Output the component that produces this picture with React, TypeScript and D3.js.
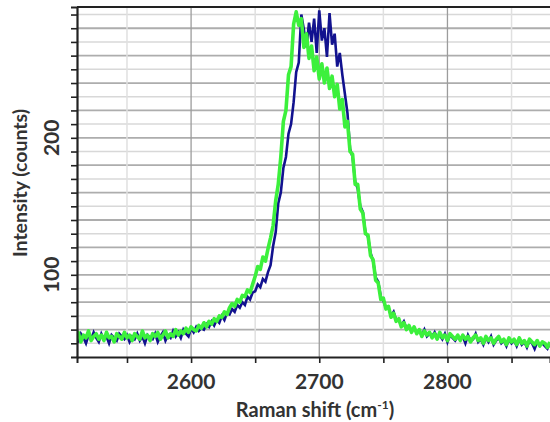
import { useEffect, useRef } from 'react'
import * as d3 from 'd3'

// spectrometer channels: first shift and spacing (cm-1)
const shiftStart = 2510
const shiftStep = 2

// blue spectrum, counts per channel
const blueCounts = [
  55, 52, 57, 54, 50, 56, 53, 58, 54, 51,
  57, 53, 55, 50, 56, 54, 52, 57, 55, 53,
  56, 51, 55, 53, 57, 52, 55, 50, 56, 54,
  53, 57, 51, 55, 58, 52, 56, 54, 59, 55,
  58, 54, 60, 57, 55, 61, 58, 62, 59, 61,
  60, 64, 62, 66, 63, 67, 65, 70, 67, 72,
  71, 75, 73, 78, 76, 80, 78, 84, 82, 87,
  88, 93, 91, 97, 95, 102, 107, 121, 131, 152,
  160, 178, 186, 203, 210, 226, 248, 255, 290, 279,
  266, 284, 270, 287, 262, 293, 271, 280, 259, 291,
  268, 276, 252, 262, 246, 232, 218, 192, 186, 168,
  163, 150, 146, 131, 128, 116, 110, 98, 95, 84,
  81, 76, 76, 70, 73, 67, 67, 63, 66, 61,
  62, 59, 61, 58, 59, 56, 60, 55, 57, 55,
  58, 54, 56, 53, 57, 51, 56, 54, 52, 55,
  53, 55, 50, 56, 52, 53, 57, 51, 53, 49,
  54, 51, 55, 49, 52, 54, 50, 52, 48, 53,
  50, 52, 48, 53, 49, 51, 47, 52, 50, 46,
  51, 49, 50, 48, 46, 50,
]

// green spectrum, counts per channel
const greenCounts = [
  53, 58, 51, 56, 54, 59, 52, 55, 57, 53,
  56, 52, 58, 54, 55, 51, 57, 55, 53, 58,
  54, 56, 52, 57, 55, 53, 59, 54, 56, 52,
  57, 55, 58, 53, 56, 59, 54, 57, 55, 60,
  56, 59, 57, 61, 58, 62, 60, 59, 63, 61,
  65, 62, 66, 64, 68, 66, 70, 69, 73, 71,
  76, 79, 77, 82, 80, 85, 84, 89, 87, 93,
  99, 106, 104, 113, 110, 119, 127, 136, 154, 166,
  186, 212, 220, 246, 252, 283, 292, 282, 287, 266,
  276, 258, 267, 249, 259, 243, 254, 240, 251, 236,
  245, 230, 239, 221, 228, 208, 212, 190, 188, 166,
  166, 148, 145, 130, 129, 114, 111, 96, 94, 82,
  83, 75, 77, 69, 72, 66, 68, 62, 65, 60,
  63, 58, 62, 57, 60, 55, 59, 56, 58, 54,
  57, 53, 58, 54, 56, 52, 57, 55, 53, 56,
  52, 56, 53, 55, 51, 54, 56, 52, 54, 50,
  55, 52, 54, 50, 53, 55, 51, 53, 49, 54,
  51, 53, 49, 54, 50, 52, 48, 53, 51, 49,
  52, 48, 51, 50, 47, 51,
]

const xTickLabels = [2600, 2700, 2800]
const xMinorTicks = [2550, 2650, 2750, 2850]
const yTickLabels = [100, 200]
const yMajorTicks = [60, 80, 100, 120, 140, 160, 180, 200, 220, 240, 260, 280]
const yMinorTicks = [50, 70, 90, 110, 130, 150, 170, 190, 210, 230, 250, 270, 290]

const WIDTH = 550
const HEIGHT = 422

export default function App() {
  const svgRef = useRef<SVGSVGElement | null>(null)

  useEffect(() => {
    const marginLeft = 77
    const marginTop = 7
    const plotBottom = 357
    const font = 'Lato, "Open Sans", sans-serif'

    const x = d3.scaleLinear().domain([2511, 2880]).range([marginLeft, WIDTH])
    const y = d3.scaleLinear().domain([40, 295.5]).range([plotBottom, marginTop])

    const svg = d3.select(svgRef.current)
    svg.selectAll('*').remove()
    svg.attr('width', WIDTH).attr('height', HEIGHT)

    svg.append('rect').attr('width', WIDTH).attr('height', HEIGHT).attr('fill', '#fff')

    svg.append('defs').append('clipPath').attr('id', 'plot-clip')
      .append('rect')
      .attr('x', marginLeft).attr('y', marginTop)
      .attr('width', WIDTH - marginLeft).attr('height', plotBottom - marginTop)

    // grid
    const grid = svg.append('g')
    grid.selectAll('line.ymin').data(yMinorTicks).join('line')
      .attr('x1', marginLeft).attr('x2', WIDTH)
      .attr('y1', (d) => y(d)).attr('y2', (d) => y(d))
      .attr('stroke', '#d8d8d8').attr('stroke-width', 1.5)
    grid.selectAll('line.ymaj').data(yMajorTicks).join('line')
      .attr('x1', marginLeft).attr('x2', WIDTH)
      .attr('y1', (d) => y(d)).attr('y2', (d) => y(d))
      .attr('stroke', '#adadad').attr('stroke-width', 1.8)
    grid.selectAll('line.xmin').data(xMinorTicks).join('line')
      .attr('x1', (d) => x(d)).attr('x2', (d) => x(d))
      .attr('y1', marginTop).attr('y2', plotBottom)
      .attr('stroke', '#e0e0e0').attr('stroke-width', 1.5)
    grid.selectAll('line.xmaj').data(xTickLabels).join('line')
      .attr('x1', (d) => x(d)).attr('x2', (d) => x(d))
      .attr('y1', marginTop).attr('y2', plotBottom)
      .attr('stroke', '#9c9c9c').attr('stroke-width', 1.3)

    // spectra
    const line = d3.line<number>()
      .x((_, i) => x(shiftStart + i * shiftStep))
      .y((d) => y(d))
    const plot = svg.append('g').attr('clip-path', 'url(#plot-clip)')
    plot.append('path').datum(blueCounts)
      .attr('d', line)
      .attr('fill', 'none')
      .attr('stroke', '#12128f')
      .attr('stroke-width', 2.6)
    plot.append('path').datum(greenCounts)
      .attr('d', line)
      .attr('fill', 'none')
      .attr('stroke', '#3cf03c')
      .attr('stroke-width', 3.6)
      .attr('stroke-linejoin', 'round')

    // frame
    svg.append('line')
      .attr('x1', marginLeft).attr('x2', WIDTH)
      .attr('y1', marginTop).attr('y2', marginTop)
      .attr('stroke', '#222').attr('stroke-width', 2)

    // bottom axis
    const xAxis = svg.append('g')
      .attr('transform', `translate(0,${plotBottom})`)
      .call(d3.axisBottom(x).tickValues([...xMinorTicks, ...xTickLabels]).tickSize(6).tickFormat(() => ''))
    xAxis.select('.domain').attr('stroke', '#222').attr('stroke-width', 2)
    xAxis.selectAll('.tick line').attr('stroke', '#222').attr('stroke-width', 1.6)

    svg.append('g')
      .selectAll('text')
      .data(xTickLabels)
      .join('text')
      .attr('x', (d) => x(d))
      .attr('y', 389)
      .attr('text-anchor', 'middle')
      .style('font-family', font)
      .style('font-weight', 'bold')
      .style('font-size', '21px')
      .style('fill', '#333')
      .text((d) => d)

    // left axis
    const yAxis = svg.append('g')
      .attr('transform', `translate(${marginLeft},0)`)
      .call(d3.axisLeft(y).tickValues([...yMinorTicks, ...yMajorTicks]).tickSize(6).tickFormat(() => ''))
    yAxis.select('.domain').attr('stroke', '#222').attr('stroke-width', 2.2)
    yAxis.selectAll('.tick line').attr('stroke', '#222').attr('stroke-width', 1.6)

    svg.append('g')
      .selectAll('text')
      .data(yTickLabels)
      .join('text')
      .attr('transform', (d) => `translate(52,${y(d)}) rotate(-90)`)
      .attr('text-anchor', 'middle')
      .attr('dy', '0.35em')
      .style('font-family', font)
      .style('font-weight', 'bold')
      .style('font-size', '21px')
      .style('fill', '#333')
      .text((d) => d)

    // axis titles
    const xTitle = svg.append('text')
      .attr('x', 315)
      .attr('y', 417)
      .attr('text-anchor', 'middle')
      .style('font-family', font)
      .style('font-weight', 'bold')
      .style('font-size', '20px')
      .style('fill', '#333')
    xTitle.append('tspan').text('Raman shift (cm')
    xTitle.append('tspan').attr('dy', -8).style('font-size', '12px').text('-1')
    xTitle.append('tspan').attr('dy', 8).text(')')

    svg.append('text')
      .attr('transform', 'translate(20,183) rotate(-90)')
      .attr('text-anchor', 'middle')
      .attr('dy', '0.35em')
      .style('font-family', font)
      .style('font-weight', 'bold')
      .style('font-size', '19.5px')
      .style('fill', '#333')
      .text('Intensity (counts)')
  }, [])

  return (
    <div style={{ position: 'absolute', left: 0, top: 0 }}>
      <svg ref={svgRef} width={WIDTH} height={HEIGHT}></svg>
    </div>
  )
}
